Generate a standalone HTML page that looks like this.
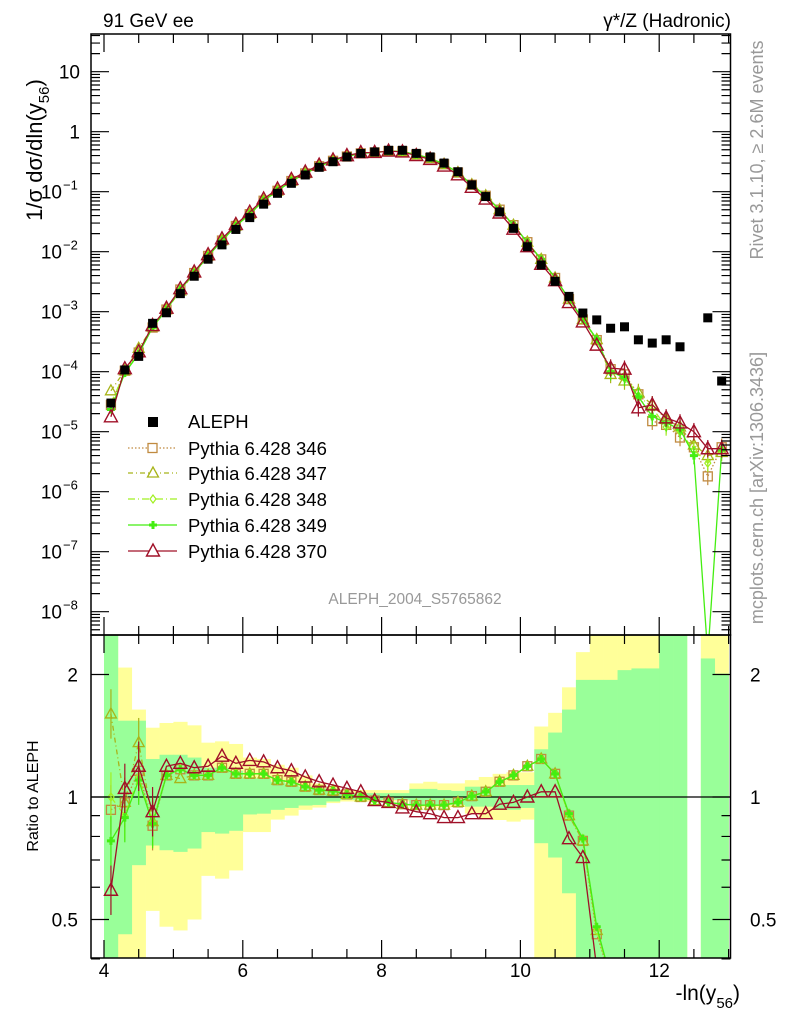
<!DOCTYPE html>
<html><head><meta charset="utf-8"><style>
body{margin:0;background:#fff}
svg{display:block;font-family:"Liberation Sans",sans-serif}
</style></head><body>
<svg id="c" width="786" height="1024" viewBox="0 0 786 1024" xmlns="http://www.w3.org/2000/svg"></svg>
<script>
// ---- data ----
const binLow = 4.0;
const binWidth = 0.2;
const alephVals = [3e-5,1.07e-4,1.8e-4,6.4e-4,9.6e-4,2e-3,3.9e-3,7.5e-3,1.3e-2,2.35e-2,3.7e-2,6.2e-2,9.4e-2,0.138,0.19,0.255,0.316,0.38,0.435,0.46,0.49,0.49,0.435,0.38,0.30,0.215,0.13,0.083,0.046,0.0245,0.0121,0.006,0.0032,0.0018,9.5e-4,7.3e-4,5.3e-4,5.6e-4,3.4e-4,3.0e-4,3.4e-4,2.6e-4,null,7.9e-4,7.0e-5];
const bandYelHi = [3,2.08,1.64,1.48,1.52,1.53,1.5,1.36,1.37,1.35,1.25,1.24,1.2,1.18,1.13,1.08,1.06,1.04,1.04,1.04,1.04,1.04,1.08,1.09,1.08,1.08,1.1,1.12,1.14,1.15,1.15,1.49,1.61,1.86,2.27,3,3,3,3,3,3,3,null,3,3];
const bandGrnHi = [3,1.54,1.54,1.24,1.27,1.27,1.25,1.18,1.18,1.16,1.11,1.11,1.09,1.08,1.06,1.05,1.035,1.022,1.022,1.022,1.022,1.022,1.047,1.047,1.04,1.035,1.06,1.06,1.07,1.07,1.07,1.31,1.44,1.64,1.94,1.94,1.94,2.05,2.07,2.07,3,3,null,2.19,2.01];
const bandGrnLo = [0.3,0.46,0.68,0.76,0.74,0.733,0.747,0.82,0.813,0.826,0.906,0.91,0.93,0.94,0.953,0.956,0.975,0.984,0.984,0.984,0.984,0.984,0.956,0.953,0.956,0.956,0.947,0.947,0.93,0.93,0.94,0.77,0.71,0.58,0.3,0.3,0.3,0.3,0.3,0.3,0.3,0.3,null,0.3,0.3];
const bandYelLo = [0.3,0.3,0.3,0.525,0.48,0.47,0.5,0.64,0.63,0.66,0.82,0.82,0.88,0.9,0.93,0.942,0.966,0.975,0.975,0.975,0.975,0.975,0.942,0.942,0.942,0.947,0.91,0.886,0.878,0.87,0.88,0.3,0.3,0.3,0.3,0.3,0.3,0.3,0.3,0.3,0.3,0.3,null,0.3,0.3];
// ratios to ALEPH for bins 0..35
const ratio346 = [0.93,0.97,1.16,0.85,1.13,1.17,1.13,1.13,1.18,1.14,1.14,1.14,1.10,1.09,1.06,1.04,1.035,1.015,1.0,0.98,0.97,0.96,0.955,0.955,0.955,0.97,1.005,1.03,1.09,1.13,1.19,1.24,1.14,0.90,0.78,0.46];
const ratio347 = [1.6,0.97,1.36,0.87,1.13,1.11,1.13,1.13,1.18,1.14,1.14,1.14,1.10,1.09,1.06,1.04,1.035,1.015,1.0,0.98,0.97,0.96,0.955,0.955,0.955,0.97,1.005,1.03,1.09,1.13,1.19,1.24,1.14,0.90,0.78,0.47];
const ratio348 = [1.0,0.9,1.12,0.87,1.13,1.17,1.13,1.13,1.18,1.14,1.14,1.14,1.10,1.09,1.06,1.04,1.035,1.015,1.0,0.98,0.97,0.96,0.955,0.955,0.955,0.97,1.005,1.03,1.09,1.13,1.19,1.24,1.14,0.90,0.79,0.47];
const ratio349 = [0.78,0.89,1.1,0.86,1.13,1.17,1.13,1.13,1.18,1.14,1.14,1.14,1.10,1.09,1.06,1.04,1.035,1.015,1.0,0.98,0.97,0.96,0.955,0.955,0.955,0.97,1.005,1.03,1.09,1.13,1.19,1.24,1.14,0.91,0.79,0.48];
const ratio370 = [0.59,1.05,1.19,0.92,1.19,1.21,1.18,1.19,1.26,1.21,1.23,1.22,1.18,1.16,1.12,1.09,1.07,1.05,1.03,0.98,0.97,0.94,0.92,0.91,0.89,0.89,0.91,0.91,0.96,0.97,1.0,1.03,1.03,0.79,0.71,0.38];
// absolute MC values for bins 36..44
const tail346 = [1.1e-4,9e-5,4.2e-5,1.5e-5,1.3e-5,8e-6,5.5e-6,1.8e-6,5.5e-6];
const tail347 = [9e-5,7e-5,4.5e-5,2.8e-5,1.6e-5,1.2e-5,6e-6,4e-6,4.5e-6];
const tail348 = [1.0e-4,8.5e-5,4e-5,2.5e-5,1.2e-5,1.0e-5,5e-6,3e-6,5e-6];
const tail349 = [1.0e-4,8e-5,3.8e-5,1.8e-5,1.4e-5,1.1e-5,4e-6,0,5e-6];
const tail370 = [1.15e-4,1.1e-4,2.5e-5,2.8e-5,1.7e-5,1.4e-5,1.0e-5,5.2e-6,5.2e-6];
const xTicks = [4,6,8,10,12];
const yExps = [1,0,-1,-2,-3,-4,-5,-6,-7,-8];
const rTicks = [2,1,0.5];

// ---- geometry ----
const L=91,R=730.5,MT=34,MB=635,RT=635,RB=958;
const X=v=>104+(v-4)*69.4;
const YM=v=>131.7-60*Math.log10(v);
const YR=r=>797-122.5*Math.log2(r);
const NS='http://www.w3.org/2000/svg';
const svg=document.getElementById('c');
function el(tag,attrs,parent){const e=document.createElementNS(NS,tag);for(const k in attrs)e.setAttribute(k,attrs[k]);(parent||svg).appendChild(e);return e;}
const defs=el('defs',{});
const cm=el('clipPath',{id:'cm'},defs);el('rect',{x:L,y:MT,width:R-L,height:MB-MT},cm);
const cr=el('clipPath',{id:'cr'},defs);el('rect',{x:L,y:RT,width:R-L,height:RB-RT},cr);
const n=alephVals.length;
const cx=i=>X(binLow+binWidth*(i+0.5));

// bands
const gBand=el('g',{'clip-path':'url(#cr)'});


function band(hi,lo,color,name){for(let i=0;i<n;i++){if(hi[i]==null)continue;const y1=YR(hi[i]),y2=YR(lo[i]);
 const r=el('rect',{x:X(binLow+binWidth*i),y:y1,width:X(binWidth)-X(0)+0.3,height:y2-y1,fill:color},gBand);
 
 }}
band(bandYelHi,bandYelLo,'#ffff99','band-total');
band(bandGrnHi,bandGrnLo,'#99ff99','band-stat');
el('line',{x1:L,x2:R,y1:YR(1),y2:YR(1),stroke:'#000','stroke-width':1.2});

// generators
const gens=[
 {name:'346',ratio:ratio346,tail:tail346,color:'#c08a40',dash:'1.5,2',mk:'square'},
 {name:'347',ratio:ratio347,tail:tail347,color:'#a8b41a',dash:'5,3,1,3',mk:'tri'},
 {name:'348',ratio:ratio348,tail:tail348,color:'#a0f020',dash:'7,3,1,3',mk:'diamond'},
 {name:'349',ratio:ratio349,tail:tail349,color:'#44ee11',dash:'',mk:'cross'},
 {name:'370',ratio:ratio370,tail:tail370,color:'#a01028',dash:'',mk:'tri370'}];
function marker(g,mk,x,y,c){
 let e;
 if(mk==='square')e=el('rect',{x:x-4.5,y:y-4.5,width:9,height:9,fill:'none',stroke:c,'stroke-width':1.3},g);
 else if(mk==='tri')e=el('polygon',{points:`${x},${y-6} ${x-5.5},${y+4} ${x+5.5},${y+4}`,fill:'none',stroke:c,'stroke-width':1.3},g);
 else if(mk==='tri370')e=el('polygon',{points:`${x},${y-7} ${x-6.5},${y+5} ${x+6.5},${y+5}`,fill:'none',stroke:c,'stroke-width':1.4},g);
 else if(mk==='diamond')e=el('polygon',{points:`${x},${y-4} ${x-3},${y} ${x},${y+4} ${x+3},${y}`,fill:'none',stroke:c,'stroke-width':1.2},g);
 else e=el('path',{d:`M${x-4},${y}H${x+4}M${x},${y-4}V${y+4}`,stroke:c,'stroke-width':3},g);
 return e;}
function mcVal(g,i){return i<g.ratio.length?alephVals[i]*g.ratio[i]:g.tail[i-g.ratio.length];}
gens.forEach(g=>{
 const gm=el('g',{'clip-path':'url(#cm)'});
 
 
 let d='';
 for(let i=0;i<n;i++){const v=mcVal(g,i);const y=v>0?YM(v):MB+20;d+=(i?'L':'M')+cx(i).toFixed(1)+','+y.toFixed(1);}
 el('path',{d:d,fill:'none',stroke:g.color,'stroke-width':1.3,'stroke-dasharray':g.dash},gm);
 for(let i=0;i<n;i++){const v=mcVal(g,i);if(!(v>0))continue;const x=cx(i),y=YM(v);
  if(i>=36){el('line',{x1:x,x2:x,y1:YM(v*1.4),y2:YM(v/1.4),stroke:g.color,'stroke-width':1.2},gm);}
  const m=marker(gm,g.mk,x,y,g.color);
  
  }
 const gr=el('g',{'clip-path':'url(#cr)'});
 
 
 let dr='',started=false;
 for(let i=0;i<n;i++){if(alephVals[i]==null){started=false;continue;}const r=mcVal(g,i)/alephVals[i];const y=r>0?YR(r):RB+20;dr+=(started?'L':'M')+cx(i).toFixed(1)+','+Math.min(y,RB+20).toFixed(1);started=true;}
 el('path',{d:dr,fill:'none',stroke:g.color,'stroke-width':1.3,'stroke-dasharray':g.dash},gr);
 for(let i=0;i<n;i++){if(alephVals[i]==null)continue;const r=mcVal(g,i)/alephVals[i];if(!(r>0.35))continue;const x=cx(i),y=YR(r);
  if(i<4)el('line',{x1:x,x2:x,y1:YR(r*1.15),y2:YR(r/1.15),stroke:g.color,'stroke-width':1.2},gr);
  const m=marker(gr,g.mk,x,y,g.color);
  
  }
});
const ga=el('g',{'clip-path':'url(#cm)'});


for(let i=0;i<n;i++){if(alephVals[i]==null)continue;const r=el('rect',{x:cx(i)-4.5,y:YM(alephVals[i])-4.5,width:9,height:9,fill:'#000'},ga);
 
 }

el('rect',{x:L,y:MT,width:R-L,height:MB-MT,fill:'none',stroke:'#000','stroke-width':1.5});
el('rect',{x:L,y:RT,width:R-L,height:RB-RT,fill:'none',stroke:'#000','stroke-width':1.5});
let tk='';
for(let v=4;v<=13.001;v+=0.5){const x=X(v);const maj=Math.abs(v%2)<0.01;const len=maj?18:9;
 tk+=`M${x},${MT}v${len}M${x},${MB}v${-len}M${x},${RT}v${len}M${x},${RB}v${-len}`;}
for(let e=-9;e<=1;e++){for(let m=1;m<10;m++){const y=YM(m*Math.pow(10,e));if(y<MT||y>MB)continue;const len=m===1?18:9;tk+=`M${L},${y}h${len}M${R},${y}h${-len}`;}}
[0.4,0.5,0.6,0.7,0.8,0.9,1,2].forEach(r=>{const y=YR(r);const len=(r===1||r===2||r===0.5)?18:9;tk+=`M${L},${y}h${len}M${R},${y}h${-len}`;});
el('path',{d:tk,stroke:'#000','stroke-width':1.2,fill:'none'});

function txt(s,x,y,attrs,name){const t=el('text',Object.assign({x:x,y:y},attrs));t.textContent=s;return t;}
xTicks.forEach(v=>txt(String(v),X(v),977,{'font-size':19,'text-anchor':'middle'},'x-tick-label'));
yExps.forEach(e=>{const y=YM(Math.pow(10,e))+7;
 if(e===1)txt('10',80,y,{'font-size':19,'text-anchor':'end'},'y-tick-label');
 else if(e===0)txt('1',80,y,{'font-size':19,'text-anchor':'end'},'y-tick-label');
 else{txt('10',62,y,{'font-size':19,'text-anchor':'end'},'y-tick-label');
  const s=el('text',{x:63,y:y-9,'font-size':13});s.textContent='\u2212'+(-e);
  
  }});
rTicks.forEach(r=>{txt(String(r),78,YR(r)+7,{'font-size':19,'text-anchor':'end'},'ratio-tick-label-left');txt(String(r),750,YR(r)+7,{'font-size':19},'ratio-tick-label-right');});
</script>
<svg style="position:absolute;left:0;top:0" width="786" height="1024">
<g font-family="Liberation Sans, sans-serif">
<text x="103" y="27" font-size="19">91 GeV ee</text>
<text x="731" y="27" font-size="19" text-anchor="end">γ*/Z (Hadronic)</text>
<text transform="translate(42,150) rotate(-90)" font-size="22" text-anchor="middle">1/σ  dσ/dln(y<tspan font-size="15" dy="7">56</tspan><tspan dy="-7">)</tspan></text>
<text transform="translate(38,796) rotate(-90)" font-size="16" text-anchor="middle">Ratio to ALEPH</text>
<text x="740" y="1000" font-size="21" text-anchor="end">-ln(y<tspan font-size="15" dy="8">56</tspan><tspan dy="-8">)</tspan></text>
<text transform="translate(763,150) rotate(-90)" font-size="18" fill="#999" text-anchor="middle">Rivet 3.1.10, ≥ 2.6M events</text>
<text transform="translate(763,488) rotate(-90)" font-size="18" fill="#999" text-anchor="middle">mcplots.cern.ch [arXiv:1306.3436]</text>
<text x="415" y="604" font-size="15.5" fill="#999" text-anchor="middle">ALEPH_2004_S5765862</text>
<g font-size="18.5">
<rect x="148" y="417" width="10" height="10" fill="#000"/>
<text x="188" y="428">ALEPH</text>
<line x1="128" x2="177" y1="448" y2="448" stroke="#c08a40" stroke-dasharray="1.5,2" stroke-width="1.3"/>
<rect x="148" y="443.5" width="9" height="9" fill="#fff" stroke="#c08a40" stroke-width="1.3"/>
<text x="188" y="455">Pythia 6.428 346</text>
<line x1="128" x2="177" y1="473" y2="473" stroke="#a8b41a" stroke-dasharray="5,3,1,3" stroke-width="1.3"/>
<polygon points="153,467 147.5,477 158.5,477" fill="#fff" stroke="#a8b41a" stroke-width="1.3"/>
<text x="188" y="480">Pythia 6.428 347</text>
<line x1="128" x2="177" y1="499" y2="499" stroke="#a0f020" stroke-dasharray="7,3,1,3" stroke-width="1.3"/>
<polygon points="153,495 150,499 153,503 156,499" fill="#fff" stroke="#a0f020" stroke-width="1.2"/>
<text x="188" y="506">Pythia 6.428 348</text>
<line x1="128" x2="177" y1="525" y2="525" stroke="#44ee11" stroke-width="1.3"/>
<path d="M149,525H157M153,521V529" stroke="#44ee11" stroke-width="3"/>
<text x="188" y="532">Pythia 6.428 349</text>
<line x1="128" x2="177" y1="551" y2="551" stroke="#a01028" stroke-width="1.3"/>
<polygon points="153,544 146.5,556 159.5,556" fill="#fff" stroke="#a01028" stroke-width="1.4"/>
<text x="188" y="558">Pythia 6.428 370</text>
</g>
</g>
</svg>
</body></html>
